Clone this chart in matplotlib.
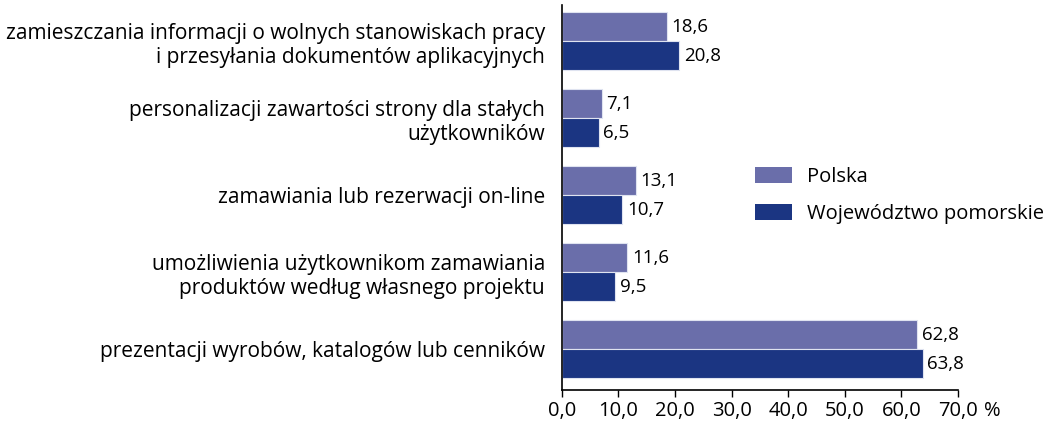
import matplotlib

matplotlib.use("Agg")
import matplotlib.pyplot as plt
import numpy as np
from matplotlib.patches import Patch

plt.rcParams["font.family"] = ["Open Sans", "DejaVu Sans"]

categories = [
    "prezentacji wyrobów, katalogów lub cenników",
    "umożliwienia użytkownikom zamawiania\nproduktów według własnego projektu",
    "zamawiania lub rezerwacji on-line",
    "personalizacji zawartości strony dla stałych\nużytkowników",
    "zamieszczania informacji o wolnych stanowiskach pracy\ni przesyłania dokumentów aplikacyjnych",
]
polska = [62.8, 11.6, 13.1, 7.1, 18.6]
pomorskie = [63.8, 9.5, 10.7, 6.5, 20.8]
series_names = ["Polska", "Województwo pomorskie"]
xticks = [0, 10, 20, 30, 40, 50, 60, 70]
unit = "%"

C_PL = "#6a6eaa"
C_POM = "#1b3582"
FS_CAT = 15
FS_TICK = 14.5
FS_NUM = 13.5
FS_LEG = 14.5


def fmt(v):
    return f"{v:.1f}".replace(".", ",")


fig = plt.figure(figsize=(10.48, 4.25), dpi=100)
ax = fig.add_axes([0.536, 0.082, 0.378, 0.906])

y = np.arange(len(categories))
h = 0.375
ax.barh(y + h / 2, polska, height=h, color=C_PL, edgecolor="#dfe3f0", linewidth=0.8)
ax.barh(y - h / 2, pomorskie, height=h, color=C_POM, edgecolor="#dfe3f0", linewidth=0.8)

for yi, v in zip(y, polska):
    ax.text(v + 0.8, yi + h / 2, fmt(v), va="center", ha="left", fontsize=FS_NUM)
for yi, v in zip(y, pomorskie):
    ax.text(v + 0.8, yi - h / 2, fmt(v), va="center", ha="left", fontsize=FS_NUM)

ax.set_xlim(0, 70)
ax.set_ylim(-0.53, 4.47)
ax.set_yticks(y)
ax.set_yticklabels(categories, fontsize=FS_CAT, linespacing=1.2)
ax.tick_params(axis="y", length=0, pad=12)
ax.set_xticks(xticks)
ax.set_xticklabels([fmt(t) for t in xticks], fontsize=FS_TICK)
ax.tick_params(axis="x", length=5, width=1, direction="out", pad=3)

# unit sign after the last tick label
ax.annotate(unit, xy=(xticks[-1], 0), xycoords=("data", "axes fraction"),
            xytext=(18.5, -8), textcoords="offset points",
            ha="left", va="top", fontsize=FS_TICK)

for s in ["top", "right"]:
    ax.spines[s].set_visible(False)
for s in ["left", "bottom"]:
    ax.spines[s].set_linewidth(1.2)

handles = [Patch(facecolor=C_PL), Patch(facecolor=C_POM)]
fig.legend(handles, series_names, loc="center left", bbox_to_anchor=(0.7204, 0.54),
           frameon=False, fontsize=FS_LEG, handlelength=1.84, handleheight=0.85,
           labelspacing=0.85, handletextpad=0.72, borderpad=0, borderaxespad=0)

fig.savefig("out.png", dpi=100)
